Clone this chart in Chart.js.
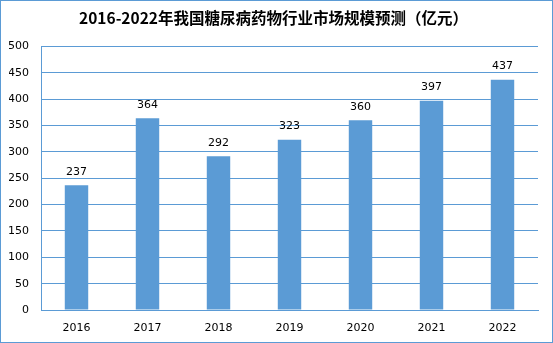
<!DOCTYPE html>
<html>
<head>
<meta charset="utf-8">
<script src="https://cdn.jsdelivr.net/npm/chart.js@4"></script>
<style>
  html, body { margin: 0; padding: 0; background: #fff; }
  #wrap { width: 551px; height: 341px; border: 1px solid #5b9bd5; position: relative; }
  canvas { display: block; }
</style>
</head>
<body>
<div id="wrap"><canvas id="market-chart" width="551" height="341"></canvas></div>
<script>
// market size forecast, 100M yuan
const years = ["2016", "2017", "2018", "2019", "2020", "2021", "2022"];
const marketSize = [237, 364, 292, 323, 360, 397, 437];
const titleText = "2016-2022年我国糖尿病药物行业市场规模预测（亿元）";

const barBlue = "#5b9bd5";

// value labels above each bar
const valueLabels = {
  id: "valueLabels",
  afterDatasetsDraw(chart) {
    const { ctx } = chart;
    const meta = chart.getDatasetMeta(0);
    ctx.save();
    ctx.font = "11px 'DejaVu Sans', sans-serif";
    ctx.fillStyle = "#000";
    ctx.textAlign = "center";
    ctx.textBaseline = "bottom";
    meta.data.forEach((bar, i) => {
      ctx.fillText(String(marketSize[i]), bar.x, bar.y - 8);
    });
    ctx.restore();
  },
};

const ctx = document.getElementById("market-chart");
new Chart(ctx, {
  type: "bar",
  data: {
    labels: years,
    datasets: [
      {
        data: marketSize,
        backgroundColor: barBlue,
        categoryPercentage: 1,
        barPercentage: 0.33,
      },
    ],
  },
  options: {
    responsive: false,
    animation: false,
    layout: { padding: { left: 8, right: 14, top: 0, bottom: 0 } },
    plugins: {
      legend: { display: false },
      tooltip: { enabled: false },
      title: {
        display: true,
        text: titleText,
        color: "#000",
        font: { family: "'Noto Sans CJK SC', sans-serif", size: 15.5, weight: "bold" },
        padding: { top: 8, bottom: 19 },
      },
    },
    scales: {
      x: {
        grid: { display: false, drawTicks: false },
        border: { color: barBlue },
        ticks: {
          color: "#000",
          padding: 12,
          font: { family: "'DejaVu Sans', sans-serif", size: 11 },
        },
        afterFit(scale) {
          scale.height = 32;
        },
      },
      y: {
        min: 0,
        max: 500,
        ticks: {
          stepSize: 50,
          color: "#000",
          padding: 12,
          font: { family: "'DejaVu Sans', sans-serif", size: 11 },
        },
        grid: { color: barBlue, drawTicks: false },
        border: { color: barBlue },
        afterFit(scale) {
          scale.width = 32;
        },
      },
    },
  },
  plugins: [valueLabels],
});
</script>
</body>
</html>
